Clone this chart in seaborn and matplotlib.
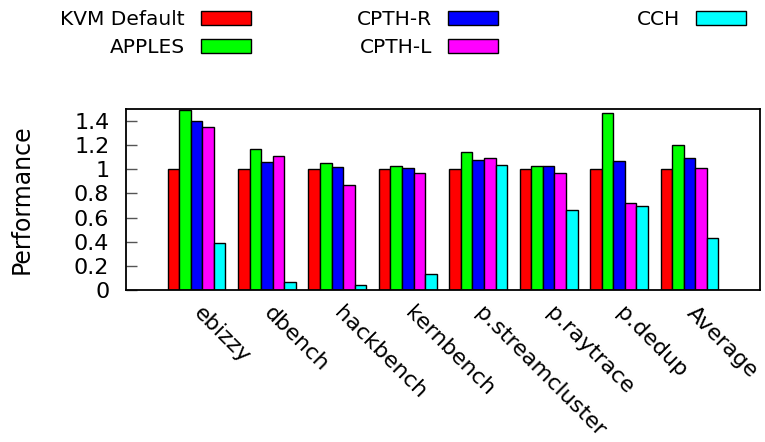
import matplotlib
matplotlib.use("Agg")
import matplotlib.pyplot as plt
import seaborn as sns
import pandas as pd

categories = ["ebizzy", "dbench", "hackbench", "kernbench", "p.streamcluster",
              "p.raytrace", "p.dedup", "Average"]
series_names = ["KVM Default", "APPLES", "CPTH-R", "CPTH-L", "CCH"]
kvm_default = [1.0, 1.0, 1.0, 1.0, 1.0, 1.0, 1.0, 1.0]
apples = [1.49, 1.17, 1.05, 1.03, 1.14, 1.03, 1.47, 1.20]
cpth_r = [1.40, 1.06, 1.02, 1.01, 1.08, 1.03, 1.07, 1.09]
cpth_l = [1.35, 1.11, 0.87, 0.97, 1.09, 0.97, 0.72, 1.01]
cch = [0.39, 0.07, 0.04, 0.13, 1.04, 0.66, 0.70, 0.43]
colors = ["#ff0000", "#00ff00", "#0000ff", "#ff00ff", "#00ffff"]
yticks = [0, 0.2, 0.4, 0.6, 0.8, 1.0, 1.2, 1.4]
ytick_labels = ["0", "0.2", "0.4", "0.6", "0.8", "1", "1.2", "1.4"]

rows = []
for name, vals in zip(series_names, [kvm_default, apples, cpth_r, cpth_l, cch]):
    for c, v in zip(categories, vals):
        rows.append({"benchmark": c, "config": name, "perf": v})
df = pd.DataFrame(rows)

sns.set_theme(style="ticks")
plt.rcParams["font.family"] = ["DejaVu Sans"]
plt.rcParams["text.color"] = "black"
plt.rcParams["axes.labelcolor"] = "black"
plt.rcParams["xtick.color"] = "black"
plt.rcParams["ytick.color"] = "black"

W, H = 765, 442
fig = plt.figure(figsize=(W / 100, H / 100), dpi=100)
ax = fig.add_axes([126 / W, 1 - 290 / H, (760 - 126) / W, (290 - 109) / H])

sns.barplot(data=df, x="benchmark", y="perf", hue="config", order=categories,
            hue_order=series_names, palette=colors, width=0.82, gap=0,
            edgecolor="black", linewidth=1.0, saturation=1, ax=ax)

ax.set_xlim(-1, 8)
ax.set_ylim(0, 1.5)
ax.set_yticks(yticks)
ax.set_yticklabels(ytick_labels, fontsize=16, color="black")
ax.tick_params(axis="y", direction="in", length=8, width=1, color="#555555",
               labelcolor="black", pad=12)
ax.tick_params(axis="x", length=0, pad=14, labelcolor="black")
ax.set_xticks(range(len(categories)))
ax.set_xticklabels(categories, fontsize=16, rotation=-45, ha="left", va="center",
                   rotation_mode="anchor", color="black")
ax.set_xlabel("")
ax.set_ylabel("Performance", fontsize=17, color="black")
ax.yaxis.set_label_coords((22 - 126) / (760 - 126), 0.5)
ax.yaxis.label.set_verticalalignment("center")
for s in ax.spines.values():
    s.set_visible(True)
    s.set_color("black")
    s.set_linewidth(1.3)

handles, labels = ax.get_legend_handles_labels()
ax.get_legend().remove()

fs = 14.5
fpx = fs * 100 / 72
cols = [([0, 1], 251), ([2, 3], 498), ([4], 746)]
for idx, xr in cols:
    leg = fig.legend([handles[i] for i in idx], [labels[i] for i in idx],
                     loc="upper right", bbox_to_anchor=(xr / W, 1 - 10 / H),
                     frameon=False, markerfirst=False, fontsize=fs, borderpad=0,
                     borderaxespad=0, handlelength=50 / fpx, handleheight=14 / fpx,
                     handletextpad=16 / fpx, labelspacing=0.45)
    for t in leg.get_texts():
        t.set_color("black")

fig.savefig("out.png", dpi=100)
